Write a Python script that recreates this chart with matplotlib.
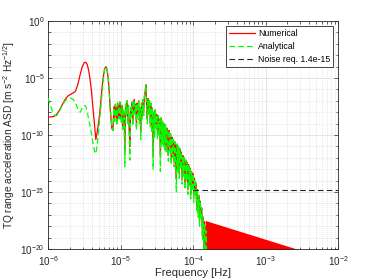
import numpy as np
import matplotlib
matplotlib.use("Agg")
import matplotlib.pyplot as plt
from matplotlib.ticker import FixedLocator, FixedFormatter, NullFormatter

plt.rcParams['font.family'] = ['Liberation Sans', 'DejaVu Sans']
plt.rcParams['mathtext.fontset'] = 'custom'
plt.rcParams['mathtext.rm'] = 'Liberation Sans'
plt.rcParams['mathtext.it'] = 'Liberation Sans:italic'

# ---------------- data (log10 of frequency [Hz] and of ASD) ----------------
# low-frequency part, numerical
num_low_logf = [-6.000, -5.960, -5.920, -5.880, -5.840, -5.800, -5.760, -5.720, -5.680, -5.650,
                -5.620, -5.590, -5.560, -5.530, -5.500, -5.480, -5.460, -5.440, -5.420, -5.400,
                -5.380, -5.360, -5.340, -5.320, -5.300, -5.280, -5.260, -5.240, -5.220, -5.200,
                -5.185, -5.170, -5.155, -5.140, -5.120, -5.105]
num_low_logasd = [-8.40, -8.42, -8.38, -8.20, -7.80, -7.30, -6.85, -6.55, -6.40, -6.30,
                  -6.15, -5.60, -4.80, -4.05, -3.65, -3.62, -3.80, -4.30, -5.10, -6.20,
                  -7.60, -9.10, -10.40, -9.70, -8.80, -7.70, -6.20, -5.00, -4.20, -4.00,
                  -4.30, -5.00, -6.30, -7.80, -9.40, -9.60]
# low-frequency part, analytical
ana_low_logf = [-6.000, -5.970, -5.940, -5.910, -5.880, -5.850, -5.810, -5.770, -5.730, -5.690,
                -5.650, -5.610, -5.580, -5.555, -5.530, -5.500, -5.480, -5.460, -5.440, -5.420,
                -5.400, -5.380, -5.360, -5.345, -5.330, -5.310, -5.290, -5.270, -5.250, -5.230,
                -5.215, -5.200, -5.185, -5.170, -5.155, -5.140, -5.120, -5.105]
ana_low_logasd = [-6.75, -7.30, -7.90, -8.30, -8.30, -8.00, -7.50, -7.05, -6.80, -6.75,
                  -6.90, -7.35, -7.85, -8.00, -7.65, -7.40, -7.45, -7.90, -8.60, -9.20,
                  -9.90, -10.70, -11.40, -11.65, -11.30, -10.20, -8.80, -7.30, -5.90, -4.70,
                  -4.15, -4.00, -4.30, -5.00, -6.30, -7.80, -9.40, -9.60]

# noisy band (shared frequency grid)
band_logf = [-5.09, -5.08, -5.07, -5.06, -5.05, -5.04, -5.03, -5.02, -5.01, -5.00,
             -4.99, -4.98, -4.97, -4.96, -4.95, -4.94, -4.93, -4.92, -4.91, -4.90,
             -4.89, -4.88, -4.87, -4.86, -4.85, -4.84, -4.83, -4.82, -4.81, -4.80,
             -4.79, -4.78, -4.77, -4.76, -4.75, -4.74, -4.73, -4.72, -4.71, -4.70,
             -4.69, -4.68, -4.67, -4.66, -4.65, -4.64, -4.63, -4.62, -4.61, -4.60,
             -4.59, -4.58, -4.57, -4.56, -4.55, -4.54, -4.53, -4.52, -4.51, -4.50,
             -4.49, -4.48, -4.47, -4.46, -4.45, -4.44, -4.43, -4.42, -4.41, -4.40,
             -4.39, -4.38, -4.37, -4.36, -4.35, -4.34, -4.33, -4.32, -4.31, -4.30,
             -4.29, -4.28, -4.27, -4.26, -4.25, -4.24, -4.23, -4.22, -4.21, -4.20,
             -4.19, -4.18, -4.17, -4.16, -4.15, -4.14, -4.13, -4.12, -4.11, -4.10,
             -4.09, -4.08, -4.07, -4.06, -4.05, -4.04, -4.03, -4.02, -4.01, -4.00,
             -3.99, -3.98, -3.97, -3.96, -3.95, -3.94, -3.93, -3.92, -3.91, -3.90,
             -3.89, -3.88, -3.87, -3.86, -3.85, -3.84, -3.83, -3.82, -3.81, -3.80]
num_band_logasd = [-7.5, -8.6, -7.3, -7.8, -8.9, -7.2, -7.6, -8.4, -7.1, -8.0,
                   -8.6, -7.4, -9.2, -7.8, -8.3, -11.5, -7.3, -8.1, -7.0, -8.8,
                   -7.4, -9.6, -11.0, -7.6, -8.2, -7.1, -8.9, -7.5, -6.9, -8.0,
                   -7.3, -9.3, -7.2, -8.1, -7.0, -8.7, -7.6, -9.8, -7.2, -8.3,
                   -6.9, -8.0, -6.6, -6.2, -5.6, -7.4, -8.6, -6.8, -8.0, -7.0,
                   -8.9, -7.2, -9.4, -7.6, -11.8, -8.0, -9.8, -7.8, -9.0, -8.2,
                   -10.0, -8.3, -9.6, -8.6, -12.0, -8.5, -10.4, -8.8, -10.6, -9.0,
                   -10.9, -9.1, -11.2, -9.4, -10.5, -11.8, -9.6, -11.0, -9.9, -12.2,
                   -10.2, -11.6, -10.4, -12.4, -10.6, -11.9, -13.8, -10.8, -12.8, -11.0,
                   -13.4, -11.2, -12.6, -11.5, -13.9, -11.8, -13.2, -12.0, -14.4, -12.2,
                   -13.6, -12.4, -14.8, -12.6, -14.0, -12.9, -15.2, -13.2, -14.5, -13.4,
                   -15.5, -13.8, -15.0, -14.2, -16.2, -14.8, -16.8, -15.3, -17.6, -15.8,
                   -17.0, -16.4, -18.8, -17.2, -20.5, -17.6, -21.0, -18.0, -21.0, -19.5]
ana_band_logasd = [-7.6, -8.8, -7.3, -7.9, -9.2, -7.2, -7.7, -8.6, -7.1, -8.2,
                   -8.9, -7.4, -9.5, -7.8, -8.5, -12.8, -7.3, -8.3, -7.0, -9.1,
                   -7.4, -9.9, -12.2, -7.6, -8.4, -7.1, -9.2, -7.5, -6.9, -8.2,
                   -7.3, -9.6, -7.2, -8.3, -7.0, -9.0, -7.6, -10.4, -7.2, -8.6,
                   -6.9, -8.3, -6.6, -6.2, -5.6, -7.5, -9.0, -6.8, -8.3, -7.0,
                   -9.3, -7.2, -9.8, -7.6, -13.0, -8.0, -10.2, -7.8, -9.4, -8.2,
                   -10.4, -8.3, -10.0, -8.6, -13.2, -8.5, -10.8, -8.8, -11.0, -9.0,
                   -11.3, -9.1, -11.6, -9.4, -10.9, -12.3, -9.6, -11.4, -9.9, -12.6,
                   -10.2, -12.0, -10.4, -12.8, -10.6, -12.4, -15.0, -10.8, -13.2, -11.0,
                   -13.8, -11.2, -13.0, -11.5, -14.3, -11.8, -13.6, -12.0, -14.8, -12.2,
                   -14.0, -12.4, -15.2, -12.6, -14.4, -12.9, -15.6, -13.2, -14.9, -13.4,
                   -15.9, -13.8, -15.4, -14.2, -16.6, -14.8, -17.2, -15.3, -18.0, -15.8,
                   -17.4, -16.4, -19.2, -17.2, -21.0, -17.8, -21.0, -18.4, -21.0, -21.0]

# high-frequency tail of the numerical spectrum (upper envelope)
tail_logf = [-3.83, -2.57]
tail_top_logasd = [-17.5, -20.0]

# noise requirement
noise_f = [1e-4, 1e-2]
noise_val = [1.4e-15, 1.4e-15]

# ---------------- build series ----------------
num_f = 10.0 ** np.array(num_low_logf + band_logf)
num_v = 10.0 ** np.array(num_low_logasd + num_band_logasd)
ana_f = 10.0 ** np.array(ana_low_logf + band_logf)
ana_v = 10.0 ** np.array(ana_low_logasd + ana_band_logasd)
tail_f = 10.0 ** np.array(tail_logf)
tail_v = 10.0 ** np.array(tail_top_logasd)

# ---------------- figure ----------------
fig = plt.figure(figsize=(3.74, 2.80), dpi=100)
ax = fig.add_axes([48/374, 31/280, 290/374, 228/280])

gcol = (0.15, 0.15, 0.15)
ax.fill_between(tail_f, tail_v, 1e-22, color=(1, 0, 0), lw=0, zorder=2)
ax.plot(num_f, num_v, color=(1, 0, 0), lw=0.9, label='Numerical', zorder=3)
ax.plot(ana_f, ana_v, color=(0, 1, 0), lw=0.9, dashes=(4.5, 2.5), label='Analytical', zorder=4)
ax.plot(noise_f, noise_val, color=gcol, lw=0.8, dashes=(5, 3), label='Noise req. 1.4e-15', zorder=5)

ax.set_xscale('log')
ax.set_yscale('log')
ax.set_xlim(1e-6, 1e-2)
ax.set_ylim(1e-20, 1e0)

xmaj = [1e-6, 1e-5, 1e-4, 1e-3, 1e-2]
xlab = ['$10^{-6}$', '$10^{-5}$', '$10^{-4}$', '$10^{-3}$', '$10^{-2}$']
ymaj = [1e-20, 1e-15, 1e-10, 1e-5, 1e0]
ylab = ['$10^{-20}$', '$10^{-15}$', '$10^{-10}$', '$10^{-5}$', '$10^{0}$']
ax.xaxis.set_major_locator(FixedLocator(xmaj))
ax.xaxis.set_major_formatter(FixedFormatter(xlab))
ax.yaxis.set_major_locator(FixedLocator(ymaj))
ax.yaxis.set_major_formatter(FixedFormatter(ylab))
xmin = [m * 10.0 ** e for e in range(-6, -2) for m in range(2, 10)]
ymin = [10.0 ** e for e in range(-19, 0) if e % 5 != 0]
ax.xaxis.set_minor_locator(FixedLocator(xmin))
ax.yaxis.set_minor_locator(FixedLocator(ymin))
ax.xaxis.set_minor_formatter(NullFormatter())
ax.yaxis.set_minor_formatter(NullFormatter())

ax.tick_params(which='both', direction='in', top=True, right=True, colors=gcol,
               labelcolor=gcol, labelsize=7.1, width=0.5)
ax.tick_params(which='major', length=3)
ax.tick_params(which='minor', length=1.8)
ax.tick_params(axis='x', pad=3.5)
ax.tick_params(axis='y', pad=2.5)

ax.grid(True, which='major', color=(0.88, 0.88, 0.88), lw=0.6, ls='-', zorder=0)
ax.grid(True, which='minor', color=(0.80, 0.80, 0.80), lw=0.5, ls=(0, (1, 2)), zorder=0)
ax.set_axisbelow(True)
for s in ax.spines.values():
    s.set_color(gcol)
    s.set_linewidth(0.6)

ax.set_xlabel('Frequency [Hz]', fontsize=8, color=gcol, labelpad=0)
ax.set_ylabel('TQ range acceleration ASD [m s$^{-2}$ Hz$^{-1/2}$]', fontsize=7.3,
              color=gcol, labelpad=2.5)

leg = ax.legend(loc='upper right', fontsize=6.3, frameon=True, fancybox=False,
                borderaxespad=0.55, handlelength=3.0, handletextpad=0.3,
                labelspacing=0.45, borderpad=0.35)
leg.get_frame().set_edgecolor(gcol)
leg.get_frame().set_linewidth(0.6)
leg.get_frame().set_alpha(1)

fig.savefig('out.png', dpi=100)
